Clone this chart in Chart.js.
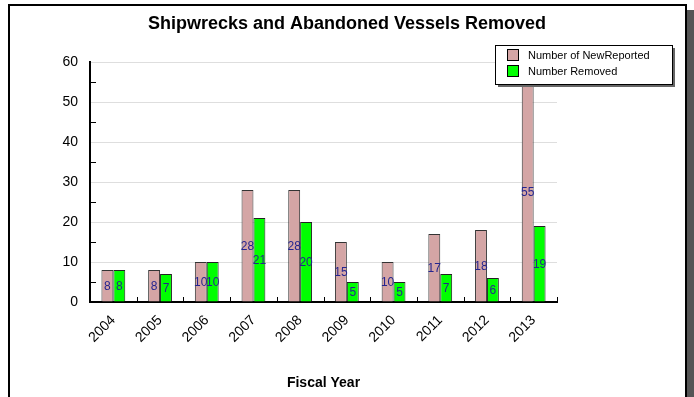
<!DOCTYPE html>
<html>
<head>
<meta charset="utf-8">
<script src="https://cdn.jsdelivr.net/npm/chart.js@4/dist/chart.umd.min.js"></script>
<style>
  html, body { margin: 0; padding: 0; background: #fff; }
  #wrap { width: 694px; height: 397px; position: relative; }
</style>
</head>
<body>
<div id="wrap"><canvas id="shipChart" width="694" height="397"></canvas></div>
<script>
// chart data
const fiscalYears = ['2004', '2005', '2006', '2007', '2008', '2009', '2010', '2011', '2012', '2013'];
const newReported = [8, 8, 10, 28, 28, 15, 10, 17, 18, 55];
const removed = [8, 7, 10, 21, 20, 5, 5, 7, 6, 19];
const yTicks = [0, 10, 20, 30, 40, 50, 60];

const FONT = '"Liberation Sans", Arial, sans-serif';

// frame with drop shadow round the whole picture
const framePlugin = {
  id: 'frame',
  beforeDraw(chart) {
    const ctx = chart.ctx;
    ctx.save();
    ctx.fillStyle = '#fff';
    ctx.fillRect(0, 0, chart.width, chart.height);
    ctx.fillStyle = '#555';
    ctx.fillRect(687, 10, 7, chart.height - 10);
    ctx.strokeStyle = '#000';
    ctx.lineWidth = 2;
    ctx.beginPath();
    ctx.moveTo(9, chart.height);
    ctx.lineTo(9, 5);
    ctx.lineTo(686, 5);
    ctx.lineTo(686, chart.height);
    ctx.stroke();
    ctx.restore();
  }
};

// small inner ticks: category edges on x, halfway marks on y
const ticksPlugin = {
  id: 'innerTicks',
  afterDatasetsDraw(chart) {
    const ctx = chart.ctx;
    const area = chart.chartArea;
    const y = chart.scales.y;
    ctx.save();
    ctx.strokeStyle = '#000';
    ctx.lineWidth = 1;
    const step = (area.right - area.left) / fiscalYears.length;
    ctx.beginPath();
    for (let i = 1; i <= fiscalYears.length; i++) {
      const px = Math.round(area.left + i * step) + 0.5;
      ctx.moveTo(px, area.bottom);
      ctx.lineTo(px, area.bottom - 5);
    }
    for (let v = 5; v < 60; v += 10) {
      const py = Math.round(y.getPixelForValue(v)) + 0.5;
      ctx.moveTo(area.left, py);
      ctx.lineTo(area.left + 6, py);
    }
    ctx.stroke();
    ctx.restore();
  }
};

// value written in the middle of each bar
const valuePlugin = {
  id: 'barValues',
  afterDatasetsDraw(chart) {
    const ctx = chart.ctx;
    ctx.save();
    ctx.font = '12px ' + FONT;
    ctx.fillStyle = '#25258f';
    ctx.textAlign = 'center';
    ctx.textBaseline = 'middle';
    chart.data.datasets.forEach((ds, di) => {
      chart.getDatasetMeta(di).data.forEach((bar, i) => {
        ctx.fillText(String(ds.data[i]), bar.x, (bar.y + bar.base) / 2 + 1);
      });
    });
    ctx.restore();
  }
};

// boxed legend with shadow, top right
const legendPlugin = {
  id: 'boxLegend',
  afterDraw(chart) {
    const ctx = chart.ctx;
    const bx = 495, by = 45, bw = 177, bh = 39;
    ctx.save();
    ctx.fillStyle = '#666';
    ctx.fillRect(bx + 3, by + 3, bw, bh);
    ctx.fillStyle = '#fff';
    ctx.fillRect(bx, by, bw, bh);
    ctx.strokeStyle = '#000';
    ctx.lineWidth = 1;
    ctx.strokeRect(bx + 0.5, by + 0.5, bw, bh);
    ctx.font = '11px ' + FONT;
    ctx.textBaseline = 'middle';
    chart.data.datasets.forEach((ds, i) => {
      const ry = by + 10 + i * 16;
      ctx.fillStyle = ds.backgroundColor;
      ctx.fillRect(bx + 12, ry - 5, 11, 11);
      ctx.strokeRect(bx + 12.5, ry - 5.5, 11, 11);
      ctx.fillStyle = '#000';
      ctx.fillText(ds.label, bx + 33, ry + 1);
    });
    ctx.restore();
  }
};

const ctx = document.getElementById('shipChart').getContext('2d');
const shipChart = new Chart(ctx, {
  type: 'bar',
  data: {
    labels: fiscalYears,
    datasets: [{
      label: 'Number of NewReported',
      data: newReported,
      backgroundColor: '#d4a5a5',
      borderColor: '#333',
      borderWidth: 1,
      barPercentage: 1,
      categoryPercentage: 0.51,
    }, {
      label: 'Number Removed',
      data: removed,
      backgroundColor: '#00ff00',
      borderColor: '#222',
      borderWidth: 1,
      barPercentage: 1,
      categoryPercentage: 0.51,
    }],
  },
  options: {
    responsive: false,
    animation: false,
    layout: { padding: 0 },
    plugins: {
      legend: { display: false },
      tooltip: { enabled: false },
      title: {
        display: true,
        text: 'Shipwrecks and Abandoned Vessels Removed',
        color: '#000',
        font: { family: FONT, size: 18, weight: 'bold' },
        padding: { top: 13, bottom: 27.4 },
      },
    },
    scales: {
      x: {
        grid: { display: false },
        border: { display: true, color: '#000', width: 2 },
        ticks: {
          color: '#000',
          font: { family: FONT, size: 14 },
          minRotation: 45,
          maxRotation: 45,
          padding: 2,
        },
        title: {
          display: true,
          text: 'Fiscal Year',
          color: '#000',
          font: { family: FONT, size: 14, weight: 'bold' },
          padding: { top: 0, bottom: 5 },
        },
        afterFit(scale) { scale.height = 95; },
      },
      y: {
        min: 0,
        max: 60,
        afterBuildTicks(scale) { scale.ticks = yTicks.map(v => ({ value: v })); },
        grid: { color: '#dedede', drawTicks: false },
        border: { display: true, color: '#000', width: 2 },
        ticks: {
          color: '#000',
          font: { family: FONT, size: 14 },
          padding: 12,
        },
        afterFit(scale) { scale.width = 90; },
      },
      // empty right-hand space so the plot stops short of the frame
      rightGap: {
        type: 'linear',
        position: 'right',
        display: true,
        grid: { display: false },
        border: { display: false },
        ticks: { display: false },
        afterFit(scale) { scale.width = 137; },
      },
    },
  },
  plugins: [framePlugin, ticksPlugin, valuePlugin, legendPlugin],
});
</script>
</body>
</html>
